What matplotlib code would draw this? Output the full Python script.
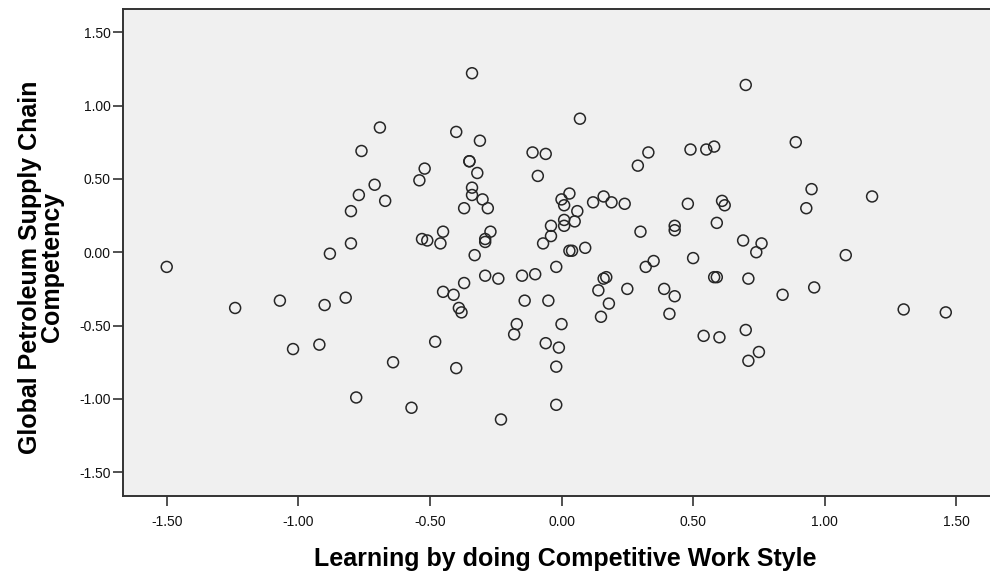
import matplotlib
matplotlib.use("Agg")
import matplotlib.pyplot as plt
from matplotlib.ticker import FixedLocator, FormatStrFormatter

# Learning by doing (x) vs supply chain competency (y), one point per respondent
x_vals = [
    -1.50, -0.69, -0.76, -0.71, -0.77, -0.67, -0.80, -0.80, -0.88, -1.24,
    -1.07, -0.90, -0.82, -1.02, -0.92, -0.64, -0.78, -0.34, 0.07, -0.40,
    -0.31, -0.11, -0.06, 0.33, 0.29, -0.52, -0.54, -0.35, -0.35, -0.32,
    -0.09, -0.34, -0.34, -0.30, -0.37, -0.28, 0.03, 0.00, 0.01, 0.06,
    0.01, 0.05, 0.01, 0.12, 0.16, 0.19, 0.24, 0.30, 0.43, 0.43,
    0.35, 0.32, -0.53, -0.51, -0.45, -0.46, -0.27, -0.29, -0.29, -0.33,
    -0.04, -0.04, -0.07, 0.03, 0.04, 0.09, 0.70, 0.89, 0.49, 0.55,
    0.58, 0.95, 0.93, 1.18, 0.48, 0.61, 0.62, 0.59, 0.69, 0.76,
    0.74, 0.50, 1.08, 0.58, 0.59, 0.71, 0.84, 0.96, 1.30, 1.46,
    0.54, 0.60, 0.70, 0.75, 0.71, -0.29, -0.24, -0.15, -0.10, -0.02,
    -0.37, -0.45, -0.41, -0.39, -0.38, -0.14, -0.05, -0.17, -0.18, 0.00,
    -0.06, -0.01, -0.48, -0.40, -0.02, -0.57, -0.02, -0.23, 0.17, 0.16,
    0.14, 0.25, 0.18, 0.15, 0.39, 0.43, 0.41,
]
y_vals = [
    -0.10, 0.85, 0.69, 0.46, 0.39, 0.35, 0.28, 0.06, -0.01, -0.38,
    -0.33, -0.36, -0.31, -0.66, -0.63, -0.75, -0.99, 1.22, 0.91, 0.82,
    0.76, 0.68, 0.67, 0.68, 0.59, 0.57, 0.49, 0.62, 0.62, 0.54,
    0.52, 0.44, 0.39, 0.36, 0.30, 0.30, 0.40, 0.36, 0.32, 0.28,
    0.22, 0.21, 0.18, 0.34, 0.38, 0.34, 0.33, 0.14, 0.18, 0.15,
    -0.06, -0.10, 0.09, 0.08, 0.14, 0.06, 0.14, 0.09, 0.07, -0.02,
    0.18, 0.11, 0.06, 0.01, 0.01, 0.03, 1.14, 0.75, 0.70, 0.70,
    0.72, 0.43, 0.30, 0.38, 0.33, 0.35, 0.32, 0.20, 0.08, 0.06,
    0.00, -0.04, -0.02, -0.17, -0.17, -0.18, -0.29, -0.24, -0.39, -0.41,
    -0.57, -0.58, -0.53, -0.68, -0.74, -0.16, -0.18, -0.16, -0.15, -0.10,
    -0.21, -0.27, -0.29, -0.38, -0.41, -0.33, -0.33, -0.49, -0.56, -0.49,
    -0.62, -0.65, -0.61, -0.79, -0.78, -1.06, -1.04, -1.14, -0.17, -0.18,
    -0.26, -0.25, -0.35, -0.44, -0.25, -0.30, -0.42,
]
tick_vals = [-1.5, -1.0, -0.5, 0.0, 0.5, 1.0, 1.5]

plt.rcParams["font.family"] = ["Liberation Sans", "DejaVu Sans"]

fig = plt.figure(figsize=(9.9, 5.78), dpi=100)
ax = fig.add_axes([0.124, 0.142, 0.876, 0.8425])
ax.set_facecolor("#F0F0F0")

ax.scatter(x_vals, y_vals, s=62, facecolors="none", edgecolors="#262626",
           linewidths=1.1, zorder=3)

ax.set_xlim(-1.667, 1.628)
ax.set_ylim(-1.661, 1.658)
ax.xaxis.set_major_locator(FixedLocator(tick_vals))
ax.yaxis.set_major_locator(FixedLocator(tick_vals))
ax.xaxis.set_major_formatter(FormatStrFormatter("%.2f"))
ax.yaxis.set_major_formatter(FormatStrFormatter("%.2f"))

for side in ("left", "bottom", "top"):
    ax.spines[side].set_color("#333333")
    ax.spines[side].set_linewidth(1.4)
ax.spines["right"].set_visible(False)

ax.tick_params(axis="both", direction="out", length=7.5, width=1.2,
               color="#333333", labelsize=10, labelcolor="#111111")
ax.tick_params(axis="x", pad=6)
ax.tick_params(axis="y", pad=1)

ax.set_xlabel("Learning by doing Competitive Work Style", fontsize=18,
              fontweight="bold")
ax.set_ylabel("Global Petroleum Supply Chain\nCompetency", fontsize=18,
              fontweight="bold", linespacing=0.9)
ax.xaxis.set_label_coords(0.51, -0.105)
ax.yaxis.set_label_coords(-0.068, 0.47)

fig.savefig("out.png", dpi=100, facecolor="white")
